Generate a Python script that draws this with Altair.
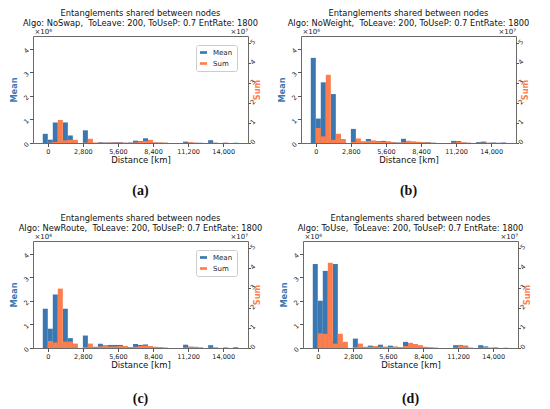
import altair as alt
import pandas as pd

# ---------------- data ----------------
BIN_STARTS = [-400, 0, 400, 800, 1200, 1600, 2000, 2400, 2800, 3200,
              3600, 4000, 4400, 4800, 5200, 5600, 6000, 6400, 6800, 7200,
              7600, 8000, 8400, 8800, 9200, 9600, 10000, 10400, 10800, 11200,
              11600, 12000, 12400, 12800, 13200, 13600, 14000, 14400, 14800]
BIN_WIDTH = 400

X_TICKS = [0, 2800, 5600, 8400, 11200, 14000]
MEAN_TICKS = [0, 1, 2, 3, 4]
SUM_TICKS = [0, 1, 2, 3, 4, 5]

ALGOS = ["NoSwap", "NoWeight", "NewRoute", "ToUse"]
LETTERS = ["a", "b", "c", "d"]
SERIES = ["Mean", "Sum"]

# Mean in units of 1e6, Sum in units of 1e7
MEAN_A = [0.39, 0.14, 0.875, 0.10, 0.875, 0.32, 0.05, 0.0, 0.54, 0.05,
          0.0, 0.03, 0.02, 0.02, 0.03, 0.03, 0.01, 0.02, 0.10, 0.08,
          0.20, 0.05, 0.02, 0.01, 0.01, 0.0, 0.0, 0.0, 0.06, 0.02,
          0.01, 0.01, 0.0, 0.12, 0.01, 0.0, 0.01, 0.0, 0.01]
SUM_A = [0.0, 0.02, 0.05, 1.15, 0.13, 0.16, 0.16, 0.0, 0.02, 0.21,
         0.02, 0.01, 0.01, 0.02, 0.02, 0.02, 0.01, 0.01, 0.03, 0.07,
         0.10, 0.16, 0.02, 0.02, 0.01, 0.0, 0.0, 0.0, 0.01, 0.04,
         0.01, 0.0, 0.0, 0.01, 0.01, 0.0, 0.01, 0.0, 0.0]

MEAN_B = [3.62, 1.04, 2.58, 0.15, 2.08, 0.39, 0.05, 0.0, 0.60, 0.05,
          0.06, 0.17, 0.07, 0.08, 0.09, 0.06, 0.03, 0.02, 0.18, 0.09,
          0.05, 0.04, 0.03, 0.03, 0.01, 0.0, 0.0, 0.0, 0.09, 0.08,
          0.02, 0.01, 0.0, 0.04, 0.06, 0.01, 0.02, 0.01, 0.02]
SUM_B = [0.0, 0.75, 0.33, 3.41, 0.16, 0.45, 0.20, 0.0, 0.05, 0.23,
         0.07, 0.10, 0.13, 0.08, 0.06, 0.07, 0.03, 0.01, 0.04, 0.10,
         0.08, 0.06, 0.03, 0.02, 0.01, 0.0, 0.0, 0.0, 0.02, 0.05,
         0.03, 0.01, 0.0, 0.01, 0.02, 0.01, 0.01, 0.0, 0.01]

MEAN_C = [1.67, 0.82, 2.28, 0.20, 1.67, 0.42, 0.05, 0.0, 0.53, 0.05,
          0.05, 0.18, 0.06, 0.13, 0.13, 0.13, 0.04, 0.03, 0.17, 0.13,
          0.15, 0.05, 0.03, 0.02, 0.01, 0.0, 0.0, 0.0, 0.14, 0.05,
          0.05, 0.02, 0.0, 0.12, 0.02, 0.0, 0.02, 0.0, 0.03]
SUM_C = [0.0, 0.35, 0.27, 2.97, 0.32, 0.32, 0.22, 0.0, 0.04, 0.22,
         0.04, 0.08, 0.15, 0.08, 0.08, 0.10, 0.10, 0.02, 0.06, 0.10,
         0.12, 0.10, 0.06, 0.04, 0.01, 0.0, 0.0, 0.0, 0.03, 0.07,
         0.05, 0.01, 0.0, 0.02, 0.01, 0.0, 0.01, 0.0, 0.01]

MEAN_D = [3.57, 2.01, 3.28, 0.30, 3.57, 0.20, 0.05, 0.0, 0.40, 0.05,
          0.05, 0.10, 0.05, 0.14, 0.04, 0.10, 0.04, 0.02, 0.26, 0.10,
          0.12, 0.05, 0.02, 0.02, 0.01, 0.0, 0.0, 0.0, 0.12, 0.13,
          0.10, 0.01, 0.0, 0.12, 0.07, 0.01, 0.02, 0.0, 0.01]
SUM_D = [0.0, 0.73, 0.71, 4.26, 0.22, 0.71, 0.31, 0.0, 0.04, 0.22,
         0.05, 0.06, 0.10, 0.06, 0.07, 0.05, 0.08, 0.05, 0.10, 0.26,
         0.20, 0.14, 0.06, 0.03, 0.01, 0.0, 0.0, 0.0, 0.03, 0.13,
         0.09, 0.01, 0.0, 0.02, 0.05, 0.01, 0.01, 0.0, 0.0]

MEANS = [MEAN_A, MEAN_B, MEAN_C, MEAN_D]
SUMS = [SUM_A, SUM_B, SUM_C, SUM_D]

X_DOMAIN = [-1180, 15980]
MEAN_DOMAIN = [0, 4.55]
SUM_DOMAIN = [0, 5.35]

# ---------------- styling ----------------
BLUE = "#3b77b1"
ORANGE = "#fd7e4c"
FONT = "DejaVu Sans"
W, H = 215, 107
CAPTION_GAP = [48, 48, 51, 51]


def panel(i):
    df = pd.DataFrame({"start": BIN_STARTS, "mean": MEANS[i], "sum": SUMS[i]})
    df["end"] = df["start"] + BIN_WIDTH
    df["s_mean"] = SERIES[0]
    df["s_sum"] = SERIES[1]

    xscale = alt.Scale(domain=X_DOMAIN, nice=False, zero=False)
    cscale = alt.Scale(domain=SERIES, range=[BLUE, ORANGE])

    x_axis = alt.Axis(values=X_TICKS, format=",d", title="Distance [km]",
                      labelFontSize=6.5, labelColor="#222", labelPadding=1.5,
                      tickSize=3.5, tickColor="#555", domain=False, grid=False,
                      titleFontSize=8.5, titleFontWeight="normal", titleColor="#111",
                      titlePadding=1, labelFlush=False)

    legend = alt.Legend(title=None, orient="none", legendX=W - 52, legendY=9,
                        fillColor="white", strokeColor="#cccccc",
                        cornerRadius=2, padding=4,
                        labelFont=FONT, labelFontSize=7,
                        labelColor="#222", labelOffset=6, rowPadding=3,
                        symbolType="M-1,-0.38H1V0.38H-1Z",
                        symbolSize=49, symbolStrokeWidth=0, symbolOpacity=1)

    blue = alt.Chart(df).mark_rect(strokeWidth=0).encode(
        x=alt.X("start:Q", scale=xscale, axis=x_axis),
        x2="end:Q",
        y=alt.Y("mean:Q", scale=alt.Scale(domain=MEAN_DOMAIN, nice=False),
                axis=alt.Axis(orient="left", values=MEAN_TICKS, title="Mean",
                              titleColor=BLUE, titleFontWeight="bold", titleFontSize=8.2,
                              titlePadding=2, labelAngle=315, labelFontSize=6.5,
                              labelColor="#222", labelPadding=2, tickSize=3.5,
                              tickColor="#555", domain=False, grid=False,
                              minExtent=13, maxExtent=13)),
        y2=alt.datum(0),
        color=alt.Color("s_mean:N", scale=cscale, legend=legend),
    )

    orange = alt.Chart(df).mark_rect(strokeWidth=0).encode(
        x=alt.X("start:Q", scale=xscale, axis=x_axis),
        x2="end:Q",
        y=alt.Y("sum:Q", scale=alt.Scale(domain=SUM_DOMAIN, nice=False),
                axis=alt.Axis(orient="right", values=SUM_TICKS, title="Sum",
                              titleColor=ORANGE, titleFontWeight="bold", titleFontSize=8.2,
                              titleAngle=270, titlePadding=2, labelAngle=315,
                              labelFontSize=6.5, labelColor="#222", labelPadding=0.5,
                              tickSize=2.5, tickColor="#555", domain=False, grid=False,
                              minExtent=11, maxExtent=11)),
        y2=alt.datum(0),
        color=alt.Color("s_sum:N", scale=cscale, legend=legend),
    )

    one = pd.DataFrame({"k": [0]})
    exp6 = alt.Chart(one).mark_text(align="left", baseline="alphabetic", fontSize=7,
                                    font=FONT, color="#222").encode(
        x=alt.value(1.5), y=alt.value(-2), text=alt.value("×10⁶"))
    exp7 = alt.Chart(one).mark_text(align="right", baseline="alphabetic", fontSize=7,
                                    font=FONT, color="#222").encode(
        x=alt.value(W), y=alt.value(-2), text=alt.value("×10⁷"))
    cap = alt.Chart(one).mark_text(align="center", baseline="middle", fontSize=14,
                                   font="Liberation Serif", fontWeight="bold",
                                   color="#111").encode(
        x=alt.value(W / 2), y=alt.value(H + CAPTION_GAP[i]),
        text=alt.value(f"({LETTERS[i]})"))

    title = alt.TitleParams(
        ["Entanglements shared between nodes",
         f"Algo: {ALGOS[i]}, \u00a0ToLeave: 200, ToUseP: 0.7 EntRate: 1800"],
        fontSize=8.3, font=FONT, fontWeight="normal", color="#111",
        anchor="middle", frame="group", offset=0.5, lineHeight=10)

    return alt.layer(blue, orange, exp6, exp7, cap).resolve_scale(
        y="independent").properties(width=W, height=H, title=title)


top = alt.hconcat(panel(0), panel(1), spacing=15)
bottom = alt.hconcat(panel(2), panel(3), spacing=15)

chart = alt.vconcat(top, bottom, spacing=14).resolve_scale(
    color="independent").resolve_legend(color="independent").properties(
    padding={"left": 0, "top": 0, "right": 0, "bottom": 0}
).configure(font=FONT).configure_view(stroke="#6a6a6a", strokeWidth=1)

chart.save("out.html", embed_options={"renderer": "svg", "actions": False})
